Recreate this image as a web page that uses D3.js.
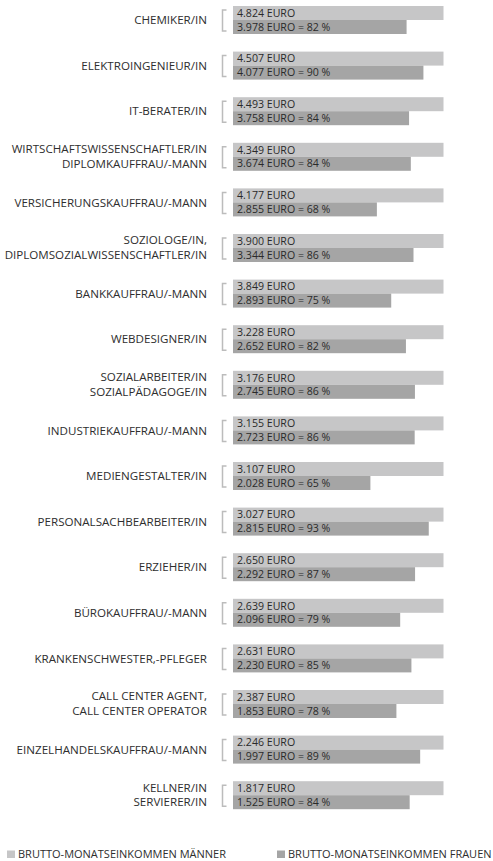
<!DOCTYPE html>
<html>
<head>
<meta charset="utf-8">
<script src="https://cdn.jsdelivr.net/npm/d3@7.9.0/dist/d3.min.js"></script>
<style>
  body { margin: 0; background: #fff; }
  svg { display: block; font-family: "Open Sans", sans-serif; }
  .label { font-size: 11.6px; fill: #2e2e2e; }
  .value { font-size: 10.6px; fill: #2a2a2a; }
  .legend text { font-size: 11px; fill: #2e2e2e; }
</style>
</head>
<body>
<svg id="chart" width="493" height="861"></svg>
<script>
// job titles (line breaks = "\n")
const jobs = [
  "CHEMIKER/IN",
  "ELEKTROINGENIEUR/IN",
  "IT-BERATER/IN",
  "WIRTSCHAFTSWISSENSCHAFTLER/IN\nDIPLOMKAUFFRAU/-MANN",
  "VERSICHERUNGSKAUFFRAU/-MANN",
  "SOZIOLOGE/IN,\nDIPLOMSOZIALWISSENSCHAFTLER/IN",
  "BANKKAUFFRAU/-MANN",
  "WEBDESIGNER/IN",
  "SOZIALARBEITER/IN\nSOZIALPÄDAGOGE/IN",
  "INDUSTRIEKAUFFRAU/-MANN",
  "MEDIENGESTALTER/IN",
  "PERSONALSACHBEARBEITER/IN",
  "ERZIEHER/IN",
  "BÜROKAUFFRAU/-MANN",
  "KRANKENSCHWESTER,-PFLEGER",
  "CALL CENTER AGENT,\nCALL CENTER OPERATOR",
  "EINZELHANDELSKAUFFRAU/-MANN",
  "KELLNER/IN\nSERVIERER/IN"
];
// gross monthly income, euro
const men   = [4824, 4507, 4493, 4349, 4177, 3900, 3849, 3228, 3176, 3155, 3107, 3027, 2650, 2639, 2631, 2387, 2246, 1817];
const women = [3978, 4077, 3758, 3674, 2855, 3344, 2893, 2652, 2745, 2723, 2028, 2815, 2292, 2096, 2230, 1853, 1997, 1525];
const percent = [82, 90, 84, 84, 68, 86, 75, 82, 86, 86, 65, 93, 87, 79, 85, 78, 89, 84];
const legendLabels = ["BRUTTO-MONATSEINKOMMEN MÄNNER", "BRUTTO-MONATSEINKOMMEN FRAUEN"];

const colorMen = "#c6c6c7";
const colorWomen = "#a5a5a5";
const fmt = d3.format(",");
const euro = v => fmt(v).replace(/,/g, ".") + " EURO";

const data = jobs.map((job, i) => ({
  job, men: men[i], women: women[i], pct: percent[i]
}));

const svg = d3.select("#chart");

// every men bar is the full length, women bar is share of it
const x = d3.scaleLinear().domain([0, 1]).range([233, 443.5]);
const y = d3.scaleBand()
  .domain(d3.range(data.length))
  .range([6, 809.2])
  .paddingInner(0.386)
  .paddingOuter(0);
const barH = y.bandwidth() / 2;

const rows = svg.selectAll("g.row")
  .data(data)
  .join("g")
  .attr("class", "row")
  .attr("transform", (d, i) => `translate(0,${y(i)})`);

rows.append("rect")
  .attr("x", x(0))
  .attr("y", 0)
  .attr("width", x(1) - x(0))
  .attr("height", barH)
  .attr("fill", colorMen);

rows.append("rect")
  .attr("x", x(0))
  .attr("y", barH)
  .attr("width", d => x(d.women / d.men) - x(0))
  .attr("height", barH)
  .attr("fill", colorWomen);

// bracket
rows.append("path")
  .attr("d", `M226.5,${barH - 10} H222.5 V${barH + 11} H226.5`)
  .attr("fill", "none")
  .attr("stroke", "#bcbcbc")
  .attr("stroke-width", 1.5);

rows.append("text")
  .attr("class", "value")
  .attr("x", 237)
  .attr("y", barH / 2 + 3.7)
  .text(d => euro(d.men));

rows.append("text")
  .attr("class", "value")
  .attr("x", 237)
  .attr("y", barH * 1.5 + 3.7)
  .text(d => `${euro(d.women)} = ${d.pct} %`);

rows.append("text")
  .attr("class", "label")
  .attr("text-anchor", "end")
  .attr("x", 207)
  .each(function (d) {
    const lines = d.job.split("\n");
    const t = d3.select(this);
    if (lines.length === 1) {
      t.attr("y", barH + 4.2).text(lines[0]);
    } else {
      lines.forEach((l, k) => {
        t.append("tspan")
          .attr("x", 207)
          .attr("y", barH / 2 + 3.3 + k * 15)
          .text(l);
      });
    }
  });

// legend
const legend = svg.append("g").attr("class", "legend");
const legendX = [7, 277];
const legendColors = [colorMen, colorWomen];
legendLabels.forEach((lab, i) => {
  legend.append("rect")
    .attr("x", legendX[i]).attr("y", 850.5)
    .attr("width", 8).attr("height", 7.5)
    .attr("fill", legendColors[i]);
  legend.append("text")
    .attr("x", legendX[i] + 11).attr("y", 858)
    .text(lab);
});
</script>
</body>
</html>
